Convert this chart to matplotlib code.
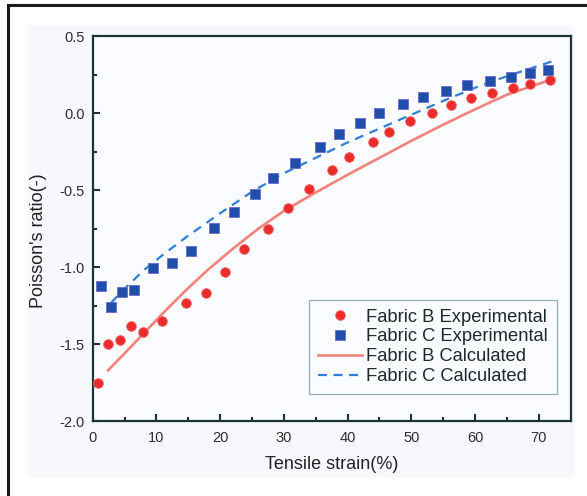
import matplotlib
matplotlib.use("Agg")
import matplotlib.pyplot as plt
from matplotlib.patches import Rectangle
from matplotlib.lines import Line2D
from matplotlib.ticker import MultipleLocator

plt.rcParams["font.family"] = ["Liberation Sans", "DejaVu Sans"]

# Fabric B experimental (red circles)
b_exp_x = [0.9, 2.35, 4.3, 6.0, 7.85, 10.9, 14.6, 17.7, 20.8, 23.8, 27.5, 30.6,
           34.0, 37.5, 40.3, 44.0, 46.5, 49.8, 53.3, 56.3, 59.3, 62.7, 65.9, 68.6, 71.8]
b_exp_y = [-1.75, -1.50, -1.47, -1.38, -1.42, -1.35, -1.23, -1.165, -1.03, -0.88, -0.755, -0.615,
           -0.49, -0.37, -0.285, -0.19, -0.12, -0.052, 0.002, 0.054, 0.098, 0.13, 0.166, 0.19, 0.218]

# Fabric C experimental (blue squares)
c_exp_x = [1.3, 2.9, 4.55, 6.5, 9.4, 12.5, 15.4, 19.0, 22.2, 25.4, 28.3, 31.8,
           35.7, 38.7, 41.9, 45.0, 48.7, 51.8, 55.4, 58.8, 62.4, 65.6, 68.6, 71.5]
c_exp_y = [-1.124, -1.26, -1.163, -1.147, -1.006, -0.972, -0.894, -0.745, -0.643, -0.528, -0.424, -0.324,
           -0.217, -0.136, -0.065, 0.0, 0.06, 0.106, 0.145, 0.182, 0.21, 0.236, 0.264, 0.281]

# calculated curves
b_calc_x = [2.4, 5, 8, 11, 14.5, 18, 22, 26, 30, 35, 40, 45, 50, 55, 60, 65, 72.4]
b_calc_y = [-1.67, -1.56, -1.43, -1.30, -1.155, -1.02, -0.88, -0.75, -0.635, -0.515, -0.40,
            -0.29, -0.18, -0.075, 0.025, 0.12, 0.225]
c_calc_x = [2.9, 5, 8, 11, 15, 20, 25, 30, 35, 40, 45, 50, 55, 60, 65, 72]
c_calc_y = [-1.23, -1.14, -1.02, -0.92, -0.795, -0.65, -0.51, -0.39, -0.29, -0.19, -0.10,
            -0.01, 0.08, 0.165, 0.24, 0.335]

fig = plt.figure(figsize=(5.87, 4.96), dpi=100)
fig.patch.set_facecolor("white")

# faint tinted panel and outer frame
fig.patches.append(Rectangle((27 / 587, 1 - 477 / 496), 548 / 587, 452 / 496,
                             transform=fig.transFigure, facecolor="#f6f8fc",
                             edgecolor="none", zorder=-5))
fig.lines.append(Line2D([8 / 587, 1.0], [1 - 5 / 496, 1 - 5 / 496],
                        transform=fig.transFigure, color="#1a1a1a", lw=2.2))
fig.lines.append(Line2D([8 / 587, 8 / 587], [0.0, 1 - 5 / 496],
                        transform=fig.transFigure, color="#1a1a1a", lw=2.2))

ax = fig.add_axes([0.158, 0.151, 0.814, 0.776])
ax.set_facecolor("#fbfcff")

ax.plot(b_exp_x, b_exp_y, "o", color="#ea2b2b", ms=7, mec="#f26a6a", mew=0.6,
        label="Fabric B Experimental", zorder=3)
ax.plot(c_exp_x, c_exp_y, "s", color="#1f4fa8", ms=6.5, mec="#6a6ad0", mew=0.6,
        label="Fabric C Experimental", zorder=3)
ax.plot(b_calc_x, b_calc_y, "-", color="#f2837a", lw=1.9,
        label="Fabric B Calculated", zorder=2)
ax.plot(c_calc_x, c_calc_y, "--", color="#2f7ed8", lw=1.6, dashes=(4, 3),
        label="Fabric C Calculated", zorder=2)

ax.set_xlim(0, 75)
ax.set_ylim(-2.0, 0.5)
ax.xaxis.set_minor_locator(MultipleLocator(5))
ax.yaxis.set_minor_locator(MultipleLocator(0.25))
ax.set_xticks(range(0, 71, 10))
ax.set_yticks([-2.0, -1.5, -1.0, -0.5, 0.0, 0.5])
ax.set_yticklabels(["-2.0", "-1.5", "-1.0", "-0.5", "0.0", "0.5"])

for s in ax.spines.values():
    s.set_color("#1e3434")
    s.set_linewidth(1.6)
ax.tick_params(which="both", direction="in", colors="#1e3434", width=1.5,
               labelcolor="#2e2e2e", labelsize=10.5)
ax.tick_params(which="major", length=5)
ax.tick_params(which="minor", length=3)
ax.tick_params(axis="x", pad=7)
ax.tick_params(axis="y", pad=6)

ax.set_xlabel("Tensile strain(%)", fontsize=13, color="#222222", labelpad=8)
ax.set_ylabel("Poisson's ratio(-)", fontsize=13, color="#222222")
ax.yaxis.set_label_coords(-0.096, 0.47)

leg = ax.legend(loc="lower right", bbox_to_anchor=(0.971, 0.07), fontsize=13.2,
                frameon=True, fancybox=False, borderpad=0.5, labelspacing=0.15,
                handlelength=2.4, handletextpad=0.2, borderaxespad=0.0)
leg.get_frame().set_edgecolor("#7b98a8")
leg.get_frame().set_linewidth(0.9)
leg.get_frame().set_facecolor("#fbfcff")
for t in leg.get_texts():
    t.set_color("#1e2a2a")

fig.savefig("out.png", dpi=100)
